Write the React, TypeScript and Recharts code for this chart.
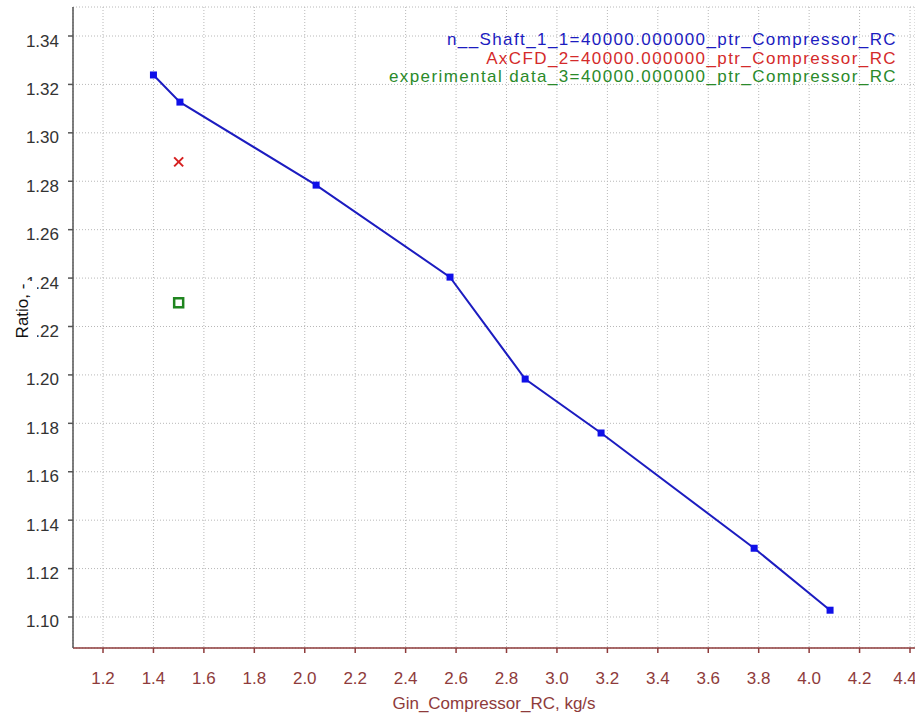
import React from 'react';
import {
  ScatterChart,
  Scatter,
  XAxis,
  YAxis,
  CartesianGrid,
} from 'recharts';

// n__Shaft_1_1 curve (mass flow kg/s, pressure ratio)
const shaftFlow = [1.4, 1.505, 2.045, 2.576, 2.874, 3.175, 3.782, 4.083];
const shaftRatio = [1.3239, 1.3127, 1.2784, 1.2404, 1.1983, 1.176, 1.1284, 1.1028];

const cfdFlow = [1.5];
const cfdRatio = [1.288];

const expFlow = [1.5];
const expRatio = [1.2298];

const xTicks = [1.2, 1.4, 1.6, 1.8, 2.0, 2.2, 2.4, 2.6, 2.8, 3.0, 3.2, 3.4, 3.6, 3.8, 4.0, 4.2, 4.4];
const yTicks = [1.1, 1.12, 1.14, 1.16, 1.18, 1.2, 1.22, 1.24, 1.26, 1.28, 1.3, 1.32, 1.34];

const legendNames = [
  'n__Shaft_1_1=40000.000000_ptr_Compressor_RC',
  'AxCFD_2=40000.000000_ptr_Compressor_RC',
  'experimental data_3=40000.000000_ptr_Compressor_RC',
];
const legendColors = ['#1c1cc0', '#d42a2a', '#2a8a2a'];

const toPoints = (xs: number[], ys: number[]) => xs.map((x, i) => ({ x, y: ys[i] }));

const FONT = '"Liberation Sans", Arial, sans-serif';
const AXIS_RED = '#8e3b3b';

const SquareDot = (props: any) => {
  const { cx, cy } = props;
  if (cx == null || cy == null) return null;
  return <rect x={cx - 3.5} y={cy - 3.5} width={7} height={7} fill="#1010e8" />;
};

const CrossDot = (props: any) => {
  const { cx, cy } = props;
  if (cx == null || cy == null) return null;
  const r = 4.5;
  return (
    <g stroke="#d62020" strokeWidth={2}>
      <line x1={cx - r} y1={cy - r} x2={cx + r} y2={cy + r} />
      <line x1={cx - r} y1={cy + r} x2={cx + r} y2={cy - r} />
    </g>
  );
};

const OpenSquare = (props: any) => {
  const { cx, cy } = props;
  if (cx == null || cy == null) return null;
  return <rect x={cx - 4.5} y={cy - 4.5} width={9} height={9} fill="none" stroke="#1f851f" strokeWidth={2.5} />;
};

const YTick = (props: any) => {
  const { x, y, payload } = props;
  return (
    <text x={x - 7} y={y + 5} textAnchor="end" dominantBaseline="central" fill="#333" fontSize={17} fontFamily={FONT}>
      {payload.value.toFixed(2)}
    </text>
  );
};

const XTick = (props: any) => {
  const { x, y, payload } = props;
  return (
    <text x={x} y={y + 23} textAnchor="middle" dominantBaseline="central" fill={AXIS_RED} fontSize={17} fontFamily={FONT}>
      {payload.value.toFixed(1)}
    </text>
  );
};

export default function App() {
  return (
    <div style={{ position: 'absolute', left: 0, top: 0, width: 915, height: 715, background: '#fff' }}>
      <ScatterChart width={915} height={715} margin={{ top: 7, right: 0, left: 0, bottom: 0 }}>
        <CartesianGrid stroke="#b8b8b8" strokeDasharray="1 2" />
        <XAxis
          type="number"
          dataKey="x"
          domain={[1.081, 4.4198]}
          ticks={xTicks}
          allowDataOverflow
          height={67}
          tickSize={5}
          stroke={AXIS_RED}
          strokeWidth={1.5}
          tick={<XTick />}
          label={{
            value: 'Gin_Compressor_RC, kg/s',
            position: 'insideBottom',
            offset: 0,
            dy: -6,
            fill: AXIS_RED,
            fontSize: 17,
            fontFamily: FONT,
          }}
        />
        <YAxis
          type="number"
          dataKey="y"
          domain={[1.08719, 1.35198]}
          ticks={yTicks}
          allowDataOverflow
          width={73}
          tickSize={5}
          stroke="#555"
          strokeWidth={1.5}
          tick={<YTick />}
        />
        <Scatter
          data={toPoints(shaftFlow, shaftRatio)}
          line={{ stroke: '#1c1cc0', strokeWidth: 2 }}
          shape={<SquareDot />}
          isAnimationActive={false}
        />
        <Scatter data={toPoints(cfdFlow, cfdRatio)} shape={<CrossDot />} isAnimationActive={false} />
        <Scatter data={toPoints(expFlow, expRatio)} shape={<OpenSquare />} isAnimationActive={false} />
      </ScatterChart>
      {/* y title on a white box that hides part of the tick labels, like the source plot */}
      <div
        style={{
          position: 'absolute',
          left: 9,
          top: 281,
          width: 28,
          height: 60,
          background: '#fff',
          display: 'flex',
          alignItems: 'center',
          justifyContent: 'center',
        }}
      >
        <span
          style={{
            transform: 'rotate(-90deg)',
            whiteSpace: 'nowrap',
            fontFamily: FONT,
            fontSize: 17,
            color: '#111',
          }}
        >
          Ratio, -
        </span>
      </div>
      <div
        style={{
          position: 'absolute',
          right: 18,
          top: 31,
          textAlign: 'right',
          fontFamily: FONT,
          fontSize: 17,
          lineHeight: '18.5px',
          letterSpacing: '1.4px',
        }}
      >
        {legendNames.map((name, i) => (
          <div key={name} style={{ color: legendColors[i] }}>
            {name}
          </div>
        ))}
      </div>
    </div>
  );
}
